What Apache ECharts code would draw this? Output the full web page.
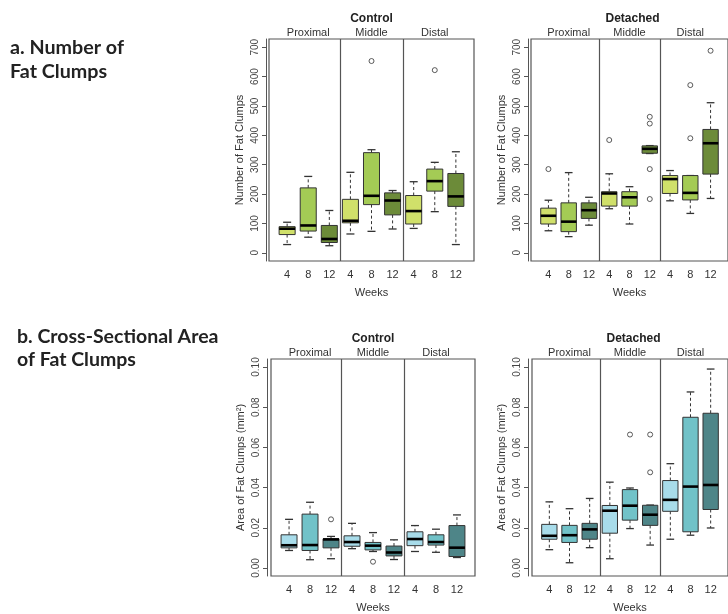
<!DOCTYPE html>
<html><head><meta charset="utf-8">
<script src="https://cdn.jsdelivr.net/npm/echarts@6/dist/echarts.min.js"></script>
<style>html,body{margin:0;padding:0;background:#fff}#c{width:728px;height:614px}</style>
</head><body><div id="c"></div>
<script>
const weeks = ['4', '8', '12'];
const regions = ['Proximal', 'Middle', 'Distal'];
const groups = ['Control', 'Detached'];
const countTicks = [0, 100, 200, 300, 400, 500, 600, 700];
const areaTicks = [0, 0.02, 0.04, 0.06, 0.08, 0.10];

// five-number summaries [min, Q1, median, Q3, max], order: Proximal 4/8/12, Middle 4/8/12, Distal 4/8/12
const controlCount = [
  [28, 62, 82, 89, 104], [53, 74, 93, 221, 260], [24, 35, 47, 93, 144],
  [64, 102, 109, 182, 274], [73, 164, 194, 341, 351], [81, 129, 178, 204, 212],
  [83, 98, 142, 195, 242], [140, 210, 244, 285, 308], [28, 158, 192, 270, 344]
];
const controlCountOutliers = [[5, 653], [8, 622]];

const detachedCount = [
  [75, 98, 126, 152, 179], [55, 72, 106, 170, 273], [94, 117, 145, 170, 189],
  [150, 159, 202, 208, 269], [98, 159, 189, 208, 225], [338, 339, 354, 364, 365],
  [177, 202, 251, 263, 280], [134, 180, 204, 263, 263], [185, 268, 373, 420, 511]
];
const detachedCountOutliers = [[1, 285], [4, 384], [6, 463], [6, 440], [6, 285], [6, 183], [8, 390], [8, 571], [9, 688]];

const controlArea = [
  [0.0087, 0.0100, 0.0113, 0.0165, 0.0242], [0.0041, 0.0087, 0.0114, 0.0268, 0.0327], [0.0046, 0.0100, 0.0142, 0.0145, 0.0157],
  [0.0096, 0.0108, 0.0129, 0.0160, 0.0222], [0.0082, 0.0090, 0.0111, 0.0127, 0.0176], [0.0042, 0.0060, 0.0077, 0.0109, 0.0140],
  [0.0082, 0.0111, 0.0144, 0.0180, 0.0211], [0.0078, 0.0114, 0.0129, 0.0165, 0.0193], [0.0052, 0.0057, 0.0101, 0.0211, 0.0264]
];
const controlAreaOutliers = [[3, 0.0242], [5, 0.0031]];

const detachedArea = [
  [0.0091, 0.0143, 0.0160, 0.0217, 0.0329], [0.0026, 0.0127, 0.0163, 0.0212, 0.0295], [0.0101, 0.0143, 0.0192, 0.0222, 0.0346],
  [0.0046, 0.0173, 0.0285, 0.0311, 0.0427], [0.0196, 0.0238, 0.0310, 0.0390, 0.0398], [0.0114, 0.0212, 0.0265, 0.0312, 0.0313],
  [0.0143, 0.0282, 0.0339, 0.0435, 0.0519], [0.0163, 0.0180, 0.0405, 0.0750, 0.0876], [0.0199, 0.0291, 0.0413, 0.0770, 0.0990]
];
const detachedAreaOutliers = [[5, 0.0664], [6, 0.0664], [6, 0.0476]];

const greenFills = ['#d0e06a', '#a4cb55', '#6c8b39'];
const blueFills = ['#a8dcea', '#71c2c8', '#4e8588'];

const panels = [
  { group: 0, boxes: controlCount, outliers: controlCountOutliers, fills: greenFills, ticks: countTicks, ymin: -28, ymax: 728,
    yName: 'Number of Fat Clumps', grid: { left: 269, top: 39, width: 205, height: 222 }, yOffset: 3, dec: 0 },
  { group: 1, boxes: detachedCount, outliers: detachedCountOutliers, fills: greenFills, ticks: countTicks, ymin: -28, ymax: 728,
    yName: 'Number of Fat Clumps', grid: { left: 531, top: 39, width: 203, height: 222 }, yOffset: 3, dec: 0 },
  { group: 0, boxes: controlArea, outliers: controlAreaOutliers, fills: blueFills, ticks: areaTicks, ymin: -0.004, ymax: 0.104,
    yName: 'Area of Fat Clumps (mm²)', grid: { left: 271, top: 359, width: 204, height: 221 }, yOffset: 4, dec: 2 },
  { group: 1, boxes: detachedArea, outliers: detachedAreaOutliers, fills: blueFills, ticks: areaTicks, ymin: -0.004, ymax: 0.104,
    yName: 'Area of Fat Clumps (mm²)', grid: { left: 532, top: 359, width: 203, height: 221 }, yOffset: 4, dec: 2 }
];

const font = 'Liberation Sans, Arial, sans-serif';
const txt = '#333';
const grids = [], xAxes = [], yAxes = [], series = [], titles = [];

titles.push({ left: 10, top: 36, padding: 0, text: 'a. Number of\nFat Clumps',
  textStyle: { fontFamily: 'Lato', fontWeight: 'bold', fontSize: 19.7, lineHeight: 24, color: '#222' } });
titles.push({ left: 17, top: 325, padding: 0, text: 'b. Cross-Sectional Area\nof Fat Clumps',
  textStyle: { fontFamily: 'Lato', fontWeight: 'bold', fontSize: 19.5, lineHeight: 23, color: '#222' } });

panels.forEach(function (p, i) {
  grids.push(Object.assign({ show: true, borderColor: '#555', borderWidth: 1.2, backgroundColor: 'transparent' }, p.grid));
  titles.push({ text: groups[p.group], left: p.grid.left + p.grid.width / 2, top: p.grid.top - 26, padding: 0, textAlign: 'center',
    textStyle: { fontFamily: font, fontWeight: 'bold', fontSize: 12, color: '#222' } });
  xAxes.push({
    type: 'value', gridIndex: i, min: 0.14, max: 9.86, position: 'bottom',
    name: 'Weeks', nameLocation: 'middle', nameGap: 26,
    nameTextStyle: { fontFamily: font, fontSize: 11, color: txt },
    axisLine: { show: false },
    axisTick: { show: false, customValues: [3.5, 6.5] },
    splitLine: { show: true, lineStyle: { color: '#555', width: 1.2 } },
    axisLabel: { customValues: [1, 2, 3, 4, 5, 6, 7, 8, 9], margin: 8, fontFamily: font, fontSize: 11, color: txt,
      formatter: function (v) { return weeks[(Math.round(v) - 1) % 3]; } }
  });
  xAxes.push({
    type: 'value', gridIndex: i, min: 0.14, max: 9.86, position: 'top',
    axisLine: { show: false }, axisTick: { show: false }, splitLine: { show: false },
    axisLabel: { customValues: [2, 5, 8], margin: 1, fontFamily: font, fontSize: 11, color: txt,
      formatter: function (v) { return regions[Math.round((v - 2) / 3)]; } }
  });
  yAxes.push({
    type: 'value', gridIndex: i, min: p.ymin, max: p.ymax, offset: p.yOffset,
    name: p.yName, nameLocation: 'middle', nameGap: 21,
    nameTextStyle: { fontFamily: font, fontSize: 11, color: txt },
    axisLine: { show: true, lineStyle: { color: '#555', width: 1 } },
    axisTick: { show: true, length: 4, customValues: p.ticks, lineStyle: { color: '#555' } },
    splitLine: { show: false },
    axisLabel: { customValues: p.ticks, rotate: 90, margin: 6, fontFamily: font, fontSize: 10, color: '#444',
      formatter: function (v) { return v.toFixed(p.dec); } }
  });
  const fills = p.fills;
  series.push({
    type: 'custom', xAxisIndex: i * 2, yAxisIndex: i,
    data: p.boxes.map(function (b, k) { return [k + 1].concat(b).concat([k % 3]); }),
    encode: { x: 0, y: [1, 2, 3, 4, 5] },
    renderItem: function (params, api) {
      const x = api.value(0);
      const mn = api.coord([x, api.value(1)]);
      const q1 = api.coord([x, api.value(2)]);
      const md = api.coord([x, api.value(3)]);
      const q3 = api.coord([x, api.value(4)]);
      const mx = api.coord([x, api.value(5)]);
      const fill = fills[api.value(6)];
      const unit = api.size([1, 0])[0];
      const hw = unit * 0.38, cw = hw * 0.5;
      const cx = mn[0];
      const dash = { stroke: '#333', lineWidth: 1, lineDash: [3, 2.5] };
      const solid = { stroke: '#333', lineWidth: 1.3 };
      return { type: 'group', children: [
        { type: 'line', shape: { x1: cx, y1: q3[1], x2: cx, y2: mx[1] }, style: dash },
        { type: 'line', shape: { x1: cx, y1: q1[1], x2: cx, y2: mn[1] }, style: dash },
        { type: 'line', shape: { x1: cx - cw, y1: mx[1], x2: cx + cw, y2: mx[1] }, style: solid },
        { type: 'line', shape: { x1: cx - cw, y1: mn[1], x2: cx + cw, y2: mn[1] }, style: solid },
        { type: 'rect', shape: { x: cx - hw, y: q3[1], width: 2 * hw, height: q1[1] - q3[1] },
          style: { fill: fill, stroke: '#333', lineWidth: 1 } },
        { type: 'line', shape: { x1: cx - hw, y1: md[1], x2: cx + hw, y2: md[1] },
          style: { stroke: '#000', lineWidth: 2.6 } }
      ] };
    }
  });
  series.push({
    type: 'scatter', xAxisIndex: i * 2, yAxisIndex: i, data: p.outliers,
    symbol: 'circle', symbolSize: 5,
    itemStyle: { color: '#fff', borderColor: '#333', borderWidth: 1 }
  });
});

const chart = echarts.init(document.getElementById('c'), null, { renderer: 'canvas' });
chart.setOption({
  animation: false, backgroundColor: '#fff',
  title: titles, grid: grids, xAxis: xAxes, yAxis: yAxes, series: series
});
</script></body></html>
